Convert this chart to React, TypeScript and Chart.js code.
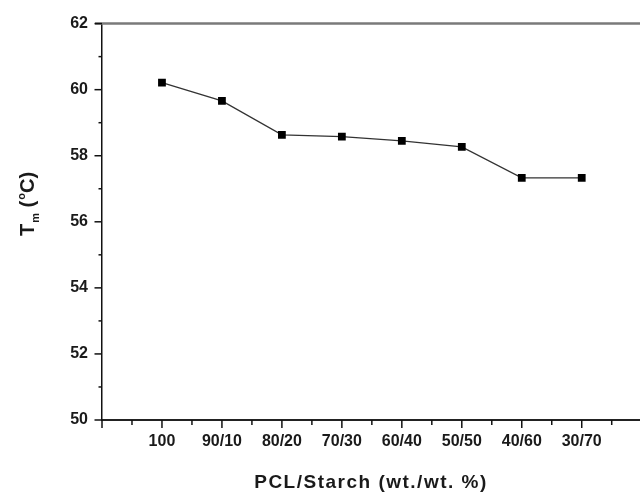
import React, { useEffect, useRef } from "react";
import { Chart, registerables } from "chart.js";

Chart.register(...registerables);

const categories = ["100", "90/10", "80/20", "70/30", "60/40", "50/50", "40/60", "30/70"];
const tmValues = [60.21, 59.66, 58.63, 58.58, 58.45, 58.27, 57.33, 57.33];
const yMin = 50;
const yMax = 62;
const yStep = 2;
const xMin = 0;
const xMax = 8.88;
const xTitle = "PCL/Starch (wt./wt. %)";

const decorPlugin = {
  id: "decor",
  afterDraw(chart: any) {
    const ctx = chart.ctx as CanvasRenderingContext2D;
    const xs = chart.scales.x;
    const ys = chart.scales.y;
    const area = chart.chartArea;
    ctx.save();
    // top frame line
    ctx.strokeStyle = "#7a7a7a";
    ctx.lineWidth = 2.5;
    ctx.beginPath();
    ctx.moveTo(area.left - 7, area.top);
    ctx.lineTo(chart.width, area.top);
    ctx.stroke();
    // bottom axis extension to the edge
    ctx.strokeStyle = "#222";
    ctx.lineWidth = 2;
    ctx.beginPath();
    ctx.moveTo(area.right, area.bottom);
    ctx.lineTo(chart.width, area.bottom);
    ctx.stroke();
    // y ticks
    ctx.strokeStyle = "#111";
    ctx.lineWidth = 1.5;
    for (let v = yMin; v <= yMax; v += 1) {
      const py = ys.getPixelForValue(v);
      const major = (v - yMin) % yStep === 0;
      const len = major ? 7.5 : 3.5;
      ctx.beginPath();
      ctx.moveTo(area.left - len, py);
      ctx.lineTo(area.left, py);
      ctx.stroke();
    }
    // x ticks
    for (let k = xMin * 2; k <= 18; k++) {
      const v = k / 2;
      const px = xs.getPixelForValue(v);
      const major = k % 2 === 0;
      const len = major ? 8 : 5;
      ctx.beginPath();
      ctx.moveTo(px, area.bottom);
      ctx.lineTo(px, area.bottom + len);
      ctx.stroke();
    }
    // x title
    ctx.fillStyle = "#1a1a1a";
    ctx.font = "bold 19px 'Liberation Sans', Arial, sans-serif";
    (ctx as any).letterSpacing = "1.5px";
    ctx.textAlign = "center";
    ctx.textBaseline = "alphabetic";
    ctx.fillText(xTitle, 371, 488);
    (ctx as any).letterSpacing = "0px";
    // y title: T_m (°C)
    ctx.translate(34, 236);
    ctx.rotate(-Math.PI / 2);
    ctx.textAlign = "left";
    let x = 0;
    const big = "bold 20px 'Liberation Sans', Arial, sans-serif";
    const small = "bold 11px 'Liberation Sans', Arial, sans-serif";
    ctx.font = big;
    ctx.fillText("T", x, 0);
    x += ctx.measureText("T").width + 1;
    ctx.font = small;
    ctx.fillText("m", x, 5);
    x += ctx.measureText("m").width;
    ctx.font = big;
    ctx.fillText(" (", x, 0);
    x += ctx.measureText(" (").width + 1;
    ctx.font = small;
    ctx.fillText("o", x, -9);
    x += ctx.measureText("o").width;
    ctx.font = big;
    ctx.fillText("C)", x, 0);
    ctx.restore();
  },
};

export default function App() {
  const ref = useRef<HTMLCanvasElement | null>(null);
  useEffect(() => {
    document.body.style.margin = "0";
    const canvas = ref.current;
    if (!canvas) return;
    const tickFont = { family: "'Liberation Sans', Arial, sans-serif", size: 16, weight: "bold" as const };
    const chart = new Chart(canvas, {
      type: "line",
      data: {
        datasets: [
          {
            data: tmValues.map((y, i) => ({ x: i + 1, y })),
            borderColor: "#333",
            borderWidth: 1.3,
            pointStyle: "rect",
            pointRadius: 5.5,
            pointBackgroundColor: "#000",
            pointBorderColor: "#000",
            pointBorderWidth: 0,
            fill: false,
            tension: 0,
          },
        ],
      },
      options: {
        animation: false,
        responsive: false,
        maintainAspectRatio: false,
        layout: { padding: { top: 22, right: 0, left: 0, bottom: 0 } },
        plugins: { legend: { display: false }, tooltip: { enabled: false }, title: { display: false } },
        scales: {
          x: {
            type: "linear",
            min: xMin,
            max: xMax,
            grid: { display: false, drawTicks: false, tickLength: 0 },
            border: { display: true, color: "#222", width: 2 },
            afterBuildTicks: (s: any) => {
              s.ticks = categories.map((_, i) => ({ value: i + 1 }));
            },
            ticks: {
              autoSkip: false,
              maxRotation: 0,
              padding: 12,
              color: "#1a1a1a",
              font: tickFont,
              callback: (v: any) => {
                const n = Number(v);
                return n >= 1 && n <= categories.length && Number.isInteger(n) ? categories[n - 1] : "";
              },
            },
            afterFit: (s: any) => {
              s.height = 75;
              s.paddingLeft = 0;
              s.paddingRight = 0;
            },
          },
          y: {
            min: yMin,
            max: yMax,
            grid: { display: false, drawTicks: false, tickLength: 0 },
            border: { display: true, color: "#111", width: 1.5 },
            ticks: { stepSize: yStep, padding: 14, color: "#1a1a1a", font: tickFont },
            afterFit: (s: any) => {
              s.width = 102;
            },
          },
        },
      },
      plugins: [decorPlugin],
    });
    return () => chart.destroy();
  }, []);
  return (
    <div style={{ width: 640, height: 495 }}>
      <canvas ref={ref} width={640} height={495} style={{ display: "block" }} />
    </div>
  );
}
